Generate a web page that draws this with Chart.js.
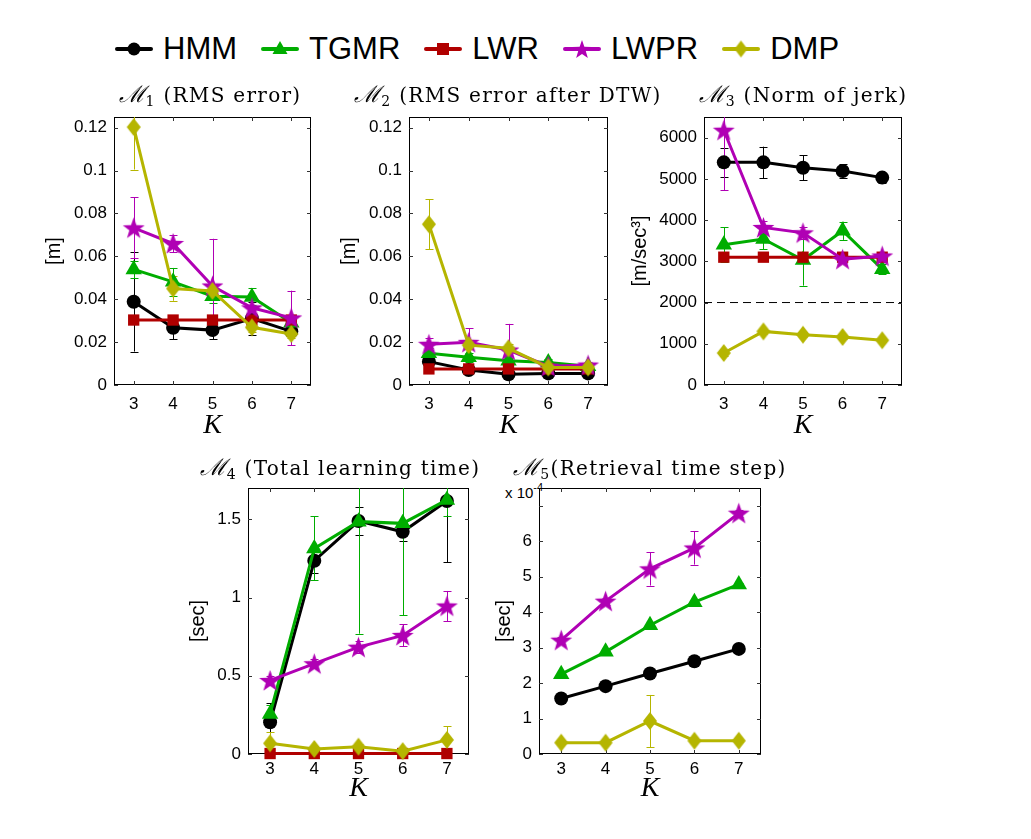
<!DOCTYPE html>
<html>
<head>
<meta charset="utf-8">
<script src="https://cdn.jsdelivr.net/npm/chart.js@4.4.0/dist/chart.umd.min.js"></script>
<style>
  body { margin: 0; background: #fff; width: 1031px; height: 839px; position: relative; overflow: hidden;
         font-family: "Liberation Sans", Arial, sans-serif; }
  .panel { position: absolute; }
  .ttl { position: absolute; font-family: "DejaVu Serif", serif; font-size: 20px; line-height: 24px;
         letter-spacing: 1.3px; white-space: nowrap; transform: translateX(-50%); color: #000; }
  .ttl i { font-style: italic; font-size: 23px; letter-spacing: 0; }
  .ttl sub { font-size: 14px; line-height: 0; vertical-align: -4px; }
  #legend { position: absolute; left: 115px; top: 29px; height: 40px; display: flex; align-items: center;
            font-size: 31px; line-height: 40px; }
  .item { display: flex; align-items: center; margin-right: 24px; }
  .item canvas { margin-right: 10px; }
  #scaleNote { position: absolute; left: 505px; top: 484px; font-size: 15px; line-height: 18px; }
  #scaleNote sup { font-size: 11px; line-height: 0; vertical-align: 7px; }
</style>
</head>
<body>
<div id="legend"></div>
<div id="scaleNote">x 10<sup>-4</sup></div>

<script>
"use strict";

// ---- data ----
const kValues = [3, 4, 5, 6, 7];
const seriesNames = ["HMM", "TGMR", "LWR", "LWPR", "DMP"];
const seriesColors = ["#000000", "#00ad00", "#b00000", "#b000b4", "#b5b500"];

// M1 RMS error [m]
const rmsHmm = [0.0388, 0.0267, 0.0256, 0.031, 0.025];
const rmsHmmErr = [0.0232, 0.0054, 0.0043, 0.0077, 0.002];
const rmsTgmr = [0.0539, 0.0481, 0.0414, 0.0411, 0.029];
const rmsTgmrErr = [0.004, 0.0065, 0.003, 0.004, 0.002];
const rmsLwr = [0.0303, 0.0303, 0.0303, 0.0303, 0.0303];
const rmsLwpr = [0.0733, 0.066, 0.0462, 0.036, 0.0313];
const rmsLwprErr = [0.0142, 0.004, 0.022, 0.0054, 0.0127];
const rmsDmp = [0.1203, 0.045, 0.0439, 0.0269, 0.0238];
const rmsDmpErr = [0.0198, 0.0057, 0.002, 0.002, 0.002];

// M2 RMS error after DTW [m]
const dtwHmm = [0.0109, 0.007, 0.005, 0.0054, 0.0054];
const dtwHmmErr = [0.0015, 0.001, 0.001, 0.0008, 0.0008];
const dtwTgmr = [0.0148, 0.0129, 0.0113, 0.0105, 0.0088];
const dtwTgmrErr = [0.0025, 0.002, 0.0015, 0.0015, 0.001];
const dtwLwr = [0.0075, 0.0075, 0.0075, 0.0075, 0.0075];
const dtwLwpr = [0.019, 0.0199, 0.0163, 0.0088, 0.0093];
const dtwLwprErr = [0.003, 0.0065, 0.0122, 0.0015, 0.0015];
const dtwDmp = [0.075, 0.0186, 0.0171, 0.0082, 0.0082];
const dtwDmpErr = [0.0117, 0.002, 0.002, 0.001, 0.001];

// M3 norm of jerk [m/sec^3]
const jerkHmm = [5400, 5400, 5270, 5190, 5030];
const jerkHmmErr = [355, 380, 305, 160, 120];
const jerkTgmr = [3400, 3540, 3030, 3740, 2810];
const jerkTgmrErr = [420, 250, 620, 220, 120];
const jerkLwr = [3100, 3100, 3100, 3100, 3100];
const jerkLwpr = [6180, 3820, 3690, 3050, 3130];
const jerkLwprErr = [1460, 150, 150, 100, 100];
const jerkDmp = [775, 1300, 1220, 1165, 1085];
const jerkDmpErr = [60, 60, 60, 50, 50];
const jerkRefLine = 2000;

// M4 total learning time [sec]
const learnHmm = [0.203, 1.235, 1.489, 1.42, 1.617];
const learnHmmErr = [0.12, 0.08, 0.09, 0.06, 0.39];
const learnTgmr = [0.256, 1.314, 1.485, 1.474, 1.624];
const learnTgmrErr = [0.06, 0.205, 0.716, 0.587, 0.1];
const learnLwr = [0.003, 0.003, 0.003, 0.003, 0.003];
const learnLwpr = [0.47, 0.577, 0.683, 0.758, 0.946];
const learnLwprErr = [0.03, 0.03, 0.04, 0.07, 0.096];
const learnDmp = [0.068, 0.032, 0.047, 0.018, 0.09];
const learnDmpErr = [0.07, 0.02, 0.02, 0.01, 0.087];

// M5 retrieval time step [x 1e-4 sec]
const retrHmm = [1.566, 1.913, 2.27, 2.616, 2.963];
const retrHmmErr = [0.03, 0.03, 0.03, 0.03, 0.03];
const retrTgmr = [2.25, 2.88, 3.63, 4.28, 4.78];
const retrTgmrErr = [0.03, 0.03, 0.03, 0.03, 0.03];
const retrLwpr = [3.21, 4.31, 5.22, 5.81, 6.79];
const retrLwprErr = [0.1, 0.1, 0.47, 0.47, 0.1];
const retrDmp = [0.32, 0.32, 0.93, 0.375, 0.375];
const retrDmpErr = [0.03, 0.03, 0.735, 0.03, 0.03];

// ticks
const xMin = 2.5, xMax = 7.5;
const rmsTicks = [0, 0.02, 0.04, 0.06, 0.08, 0.1, 0.12];
const rmsTickLabels = ["0", "0.02", "0.04", "0.06", "0.08", "0.1", "0.12"];
const jerkTicks = [0, 1000, 2000, 3000, 4000, 5000, 6000];
const jerkTickLabels = ["0", "1000", "2000", "3000", "4000", "5000", "6000"];
const learnTicks = [0, 0.5, 1, 1.5];
const learnTickLabels = ["0", "0.5", "1", "1.5"];
const retrTicks = [0, 1, 2, 3, 4, 5, 6, 7];
const retrTickLabels = ["0", "1", "2", "3", "4", "5", "6", ""];

// ---- markers ----
function starImage(color, R) {
  const s = Math.ceil(R * 2 + 2);
  const c = document.createElement("canvas");
  c.width = c.height = s;
  const g = c.getContext("2d");
  g.fillStyle = color;
  g.beginPath();
  for (let i = 0; i < 10; i++) {
    const r = i % 2 ? R * 0.4 : R;
    const a = -Math.PI / 2 + i * Math.PI / 5;
    g.lineTo(s / 2 + r * Math.cos(a), s / 2 + 1 + r * Math.sin(a));
  }
  g.closePath();
  g.fill();
  return c;
}

function diamondImage(color, w, h) {
  const c = document.createElement("canvas");
  c.width = w + 2;
  c.height = h + 2;
  const g = c.getContext("2d");
  g.fillStyle = color;
  g.beginPath();
  g.moveTo(c.width / 2, 1);
  g.lineTo(c.width - 1, c.height / 2);
  g.lineTo(c.width / 2, c.height - 1);
  g.lineTo(1, c.height / 2);
  g.closePath();
  g.fill();
  return c;
}

const markerStyles = [
  { pointStyle: "circle", pointRadius: 7 },
  { pointStyle: "triangle", pointRadius: 9.5 },
  { pointStyle: "rect", pointRadius: 8 },
  { pointStyle: starImage(seriesColors[3], 11.5), pointRadius: 10 },
  { pointStyle: diamondImage(seriesColors[4], 14, 18), pointRadius: 8 },
];

// ---- legend ----
const legendEl = document.getElementById("legend");
seriesNames.forEach((name, i) => {
  const item = document.createElement("div");
  item.className = "item";
  const c = document.createElement("canvas");
  c.width = 38;
  c.height = 26;
  const g = c.getContext("2d");
  g.strokeStyle = seriesColors[i];
  g.fillStyle = seriesColors[i];
  g.lineWidth = 4;
  g.lineCap = "round";
  g.beginPath();
  g.moveTo(2, 13);
  g.lineTo(36, 13);
  g.stroke();
  g.beginPath();
  if (i === 0) {
    g.arc(19, 13, 6.5, 0, Math.PI * 2);
    g.fill();
  } else if (i === 1) {
    g.moveTo(19, 5); g.lineTo(26.5, 18); g.lineTo(11.5, 18); g.closePath();
    g.fill();
  } else if (i === 2) {
    g.rect(13, 7, 12, 12);
    g.fill();
  } else if (i === 3) {
    const s = starImage(seriesColors[3], 10);
    g.drawImage(s, 19 - s.width / 2, 13 - s.height / 2);
  } else {
    const d = diamondImage(seriesColors[4], 13, 17);
    g.drawImage(d, 19 - d.width / 2, 13 - d.height / 2);
  }
  const t = document.createElement("span");
  t.textContent = name;
  item.appendChild(c);
  item.appendChild(t);
  legendEl.appendChild(item);
});

// ---- inward ticks, frame, error bars ----
const axesDecor = {
  id: "axesDecor",
  beforeDatasetsDraw(chart) {
    const { ctx, chartArea: a, scales: { x, y } } = chart;
    ctx.save();
    ctx.strokeStyle = "#000";
    ctx.lineWidth = 1;
    ctx.strokeRect(a.left + 0.5, a.top + 0.5, a.right - a.left - 1, a.bottom - a.top - 1);
    ctx.strokeStyle = "#333";
    ctx.beginPath();
    y.ticks.forEach(t => {
      const py = Math.round(y.getPixelForValue(t.value)) + 0.5;
      ctx.moveTo(a.left, py); ctx.lineTo(a.left + 4, py);
      ctx.moveTo(a.right, py); ctx.lineTo(a.right - 4, py);
    });
    x.ticks.forEach(t => {
      const px = Math.round(x.getPixelForValue(t.value)) + 0.5;
      ctx.moveTo(px, a.bottom); ctx.lineTo(px, a.bottom - 4);
      ctx.moveTo(px, a.top); ctx.lineTo(px, a.top + 4);
    });
    ctx.stroke();

    // error bars, clipped to the plot box
    ctx.beginPath();
    ctx.rect(a.left, a.top, a.right - a.left, a.bottom - a.top);
    ctx.clip();
    ctx.lineWidth = 1;
    chart.data.datasets.forEach(ds => {
      if (!ds.errors) return;
      ctx.strokeStyle = ds.borderColor;
      ctx.beginPath();
      ds.data.forEach((pt, i) => {
        const e = ds.errors[i];
        if (!e) return;
        const px = Math.round(x.getPixelForValue(pt.x)) + 0.5;
        const lo = y.getPixelForValue(pt.y - e);
        const hi = y.getPixelForValue(pt.y + e);
        ctx.moveTo(px, lo); ctx.lineTo(px, hi);
        ctx.moveTo(px - 4, Math.round(lo) + 0.5); ctx.lineTo(px + 4, Math.round(lo) + 0.5);
        ctx.moveTo(px - 4, Math.round(hi) + 0.5); ctx.lineTo(px + 4, Math.round(hi) + 0.5);
      });
      ctx.stroke();
    });
    ctx.restore();
  }
};

function series(idx, values, errors) {
  const c = seriesColors[idx];
  return Object.assign({
    label: seriesNames[idx],
    data: values.map((v, i) => ({ x: kValues[i], y: v })),
    errors: errors,
    borderColor: c,
    backgroundColor: c,
    borderWidth: 3,
    pointBorderWidth: 0,
    pointBackgroundColor: c,
    tension: 0,
    clip: false,
    order: 5 - idx,
  }, markerStyles[idx]);
}

function makePanel(p) {
  const yW = p.yOff + 12;
  const padT = 22, padR = 22;
  const w = p.r - p.l + yW + padR;
  const h = p.b - p.t + padT + p.xH;
  const box = document.createElement("div");
  box.className = "panel";
  box.style.left = (p.l - yW) + "px";
  box.style.top = (p.t - padT) + "px";
  box.style.width = w + "px";
  box.style.height = h + "px";
  const canvas = document.createElement("canvas");
  canvas.width = w;
  canvas.height = h;
  canvas.style.width = w + "px";
  canvas.style.height = h + "px";
  box.appendChild(canvas);
  document.body.appendChild(box);

  const ttl = document.createElement("div");
  ttl.className = "ttl";
  ttl.innerHTML = p.title;
  ttl.style.left = p.titleX + "px";
  ttl.style.top = p.titleY + "px";
  document.body.appendChild(ttl);

  const tickFont = { family: "Liberation Sans", size: 17 };
  new Chart(canvas, {
    type: "line",
    data: { datasets: p.datasets },
    options: {
      responsive: false,
      animation: false,
      devicePixelRatio: 1,
      layout: { padding: { top: padT, right: padR, left: 0, bottom: 0 } },
      plugins: { legend: { display: false }, tooltip: { enabled: false } },
      scales: {
        x: {
          type: "linear",
          min: xMin,
          max: xMax,
          afterBuildTicks: s => { s.ticks = kValues.map(v => ({ value: v })); },
          afterFit: s => { s.height = p.xH; },
          grid: { display: false, drawTicks: false },
          border: { display: false },
          ticks: { padding: p.xPad, color: "#000", font: tickFont, autoSkip: false, maxRotation: 0,
                   callback: v => String(v) },
          title: { display: true, text: "K", color: "#000", padding: 0,
                   font: { family: "Liberation Serif", style: "italic", size: 28 } },
        },
        y: {
          type: "linear",
          min: 0,
          max: p.yMax,
          afterBuildTicks: s => { s.ticks = p.yTicks.map(v => ({ value: v })); },
          afterFit: s => { s.width = yW; },
          grid: { display: false, drawTicks: false },
          border: { display: false },
          ticks: { padding: 7, color: "#000", font: tickFont, autoSkip: false,
                   callback: (v, i) => p.yTickLabels[i] },
          title: { display: true, text: p.yTitle, color: "#000", padding: 0,
                   font: { family: "Liberation Sans", size: 20 } },
        },
      },
    },
    plugins: [axesDecor],
  });
}

makePanel({
  l: 114, t: 117, r: 311, b: 385, yOff: 60, xH: 57, xPad: 9,
  title: "<i>ℳ</i><sub>1</sub> (RMS error)", titleX: 210, titleY: 82,
  yMax: 0.125, yTicks: rmsTicks, yTickLabels: rmsTickLabels, yTitle: "[m]",
  datasets: [
    series(0, rmsHmm, rmsHmmErr),
    series(1, rmsTgmr, rmsTgmrErr),
    series(2, rmsLwr, null),
    series(3, rmsLwpr, rmsLwprErr),
    series(4, rmsDmp, rmsDmpErr),
  ],
});

makePanel({
  l: 409, t: 117, r: 608, b: 385, yOff: 60, xH: 57, xPad: 9,
  title: "<i>ℳ</i><sub>2</sub> (RMS error after DTW)", titleX: 508, titleY: 82,
  yMax: 0.125, yTicks: rmsTicks, yTickLabels: rmsTickLabels, yTitle: "[m]",
  datasets: [
    series(0, dtwHmm, dtwHmmErr),
    series(1, dtwTgmr, dtwTgmrErr),
    series(2, dtwLwr, null),
    series(3, dtwLwpr, dtwLwprErr),
    series(4, dtwDmp, dtwDmpErr),
  ],
});

makePanel({
  l: 704, t: 117, r: 902, b: 385, yOff: 64, xH: 57, xPad: 9,
  title: "<i>ℳ</i><sub>3</sub> (Norm of jerk)", titleX: 803, titleY: 82,
  yMax: 6500, yTicks: jerkTicks, yTickLabels: jerkTickLabels, yTitle: "[m/sec³]",
  datasets: [
    series(0, jerkHmm, jerkHmmErr),
    series(1, jerkTgmr, jerkTgmrErr),
    series(2, jerkLwr, null),
    series(3, jerkLwpr, jerkLwprErr),
    series(4, jerkDmp, jerkDmpErr),
    {
      label: "limit",
      data: [{ x: xMin, y: jerkRefLine }, { x: xMax, y: jerkRefLine }],
      borderColor: "#000",
      borderWidth: 1,
      borderDash: [8, 5],
      pointRadius: 0,
      order: 10,
    },
  ],
});

makePanel({
  l: 248, t: 488, r: 469, b: 754, yOff: 50, xH: 51, xPad: 5,
  title: "<i>ℳ</i><sub>4</sub> (Total learning time)", titleX: 340, titleY: 455,
  yMax: 1.7, yTicks: learnTicks, yTickLabels: learnTickLabels, yTitle: "[sec]",
  datasets: [
    series(0, learnHmm, learnHmmErr),
    series(1, learnTgmr, learnTgmrErr),
    series(2, learnLwr, null),
    series(3, learnLwpr, learnLwprErr),
    series(4, learnDmp, learnDmpErr),
  ],
});

makePanel({
  l: 539, t: 488, r: 761, b: 754, yOff: 35, xH: 51, xPad: 5,
  title: "<i>ℳ</i><sub>5</sub>(Retrieval time step)", titleX: 650, titleY: 455,
  yMax: 7.5, yTicks: retrTicks, yTickLabels: retrTickLabels, yTitle: "[sec]",
  datasets: [
    series(0, retrHmm, retrHmmErr),
    series(1, retrTgmr, retrTgmrErr),
    series(3, retrLwpr, retrLwprErr),
    series(4, retrDmp, retrDmpErr),
  ],
});
</script>
</body>
</html>
